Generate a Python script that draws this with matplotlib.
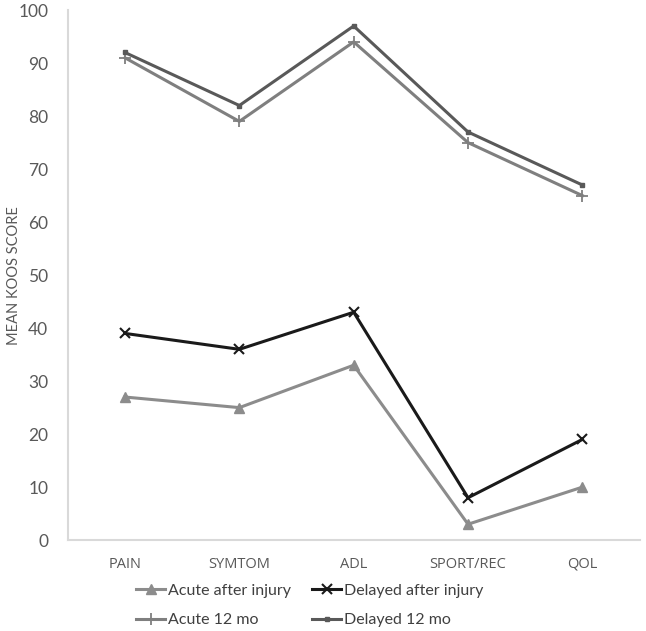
import matplotlib
matplotlib.use('Agg')
import matplotlib.pyplot as plt

categories = ['PAIN', 'SYMTOM', 'ADL', 'SPORT/REC', 'QOL']
acute_after = [27, 25, 33, 3, 10]
delayed_after = [39, 36, 43, 8, 19]
acute_12 = [91, 79, 94, 75, 65]
delayed_12 = [92, 82, 97, 77, 67]

plt.rcParams['font.family'] = ['Lato', 'DejaVu Sans']

fig = plt.figure(figsize=(6.46, 6.31), dpi=100)
ax = fig.add_axes([0.105, 0.144, 0.885, 0.84])

x = range(len(categories))
h1, = ax.plot(x, acute_after, color='#8c8c8c', lw=2.2, marker='^', ms=7, label='Acute after injury')
h2, = ax.plot(x, delayed_after, color='#1a1a1a', lw=2.2, marker='x', ms=7, mew=1.5, label='Delayed after injury')
h3, = ax.plot(x, acute_12, color='#7f7f7f', lw=2.2, marker='+', ms=8, mew=1.3, label='Acute 12 mo')
h4, = ax.plot(x, delayed_12, color='#595959', lw=2.2, marker='s', ms=3, label='Delayed 12 mo')

ax.set_xlim(-0.5, 4.5)
ax.set_ylim(0, 100)
ax.set_yticks(range(0, 101, 10))
ax.set_xticks(list(x))
ax.set_xticklabels(categories, fontsize=10.5, fontfamily=['Open Sans', 'DejaVu Sans'])
ax.tick_params(length=0, colors='#595959')
ax.tick_params(axis='x', pad=12)
ax.tick_params(axis='y', labelsize=12.5, pad=14)
fig.text(0.022, 0.144 + 0.84 / 2, 'MEAN KOOS SCORE', color='#595959', fontsize=10.5,
         rotation=90, ha='center', va='center')

for s in ['top', 'right']:
    ax.spines[s].set_visible(False)
ax.spines['left'].set_color('#d9d9d9')
ax.spines['bottom'].set_color('#d9d9d9')
ax.spines['left'].set_linewidth(1.5)
ax.spines['bottom'].set_linewidth(1.5)

leg = ax.legend([h1, h3, h2, h4], [h.get_label() for h in [h1, h3, h2, h4]],
                loc='upper left', bbox_to_anchor=(0.12, -0.082), ncol=2, frameon=False,
                fontsize=11.5, handlelength=1.8, handletextpad=0.2, columnspacing=1.3,
                labelspacing=0.95, borderpad=0, borderaxespad=0)
for t in leg.get_texts():
    t.set_color('#404040')

fig.savefig('out.png', dpi=100)
